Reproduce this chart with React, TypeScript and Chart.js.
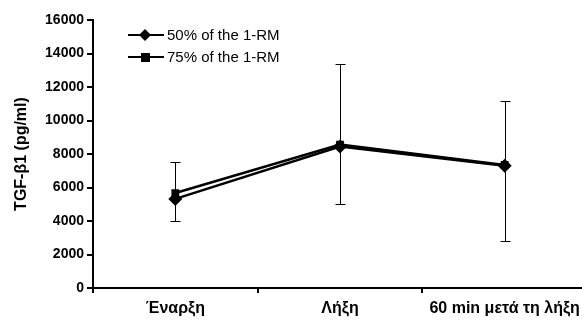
import React, { useEffect, useRef } from "react";
import { Chart, registerables } from "chart.js";
Chart.register(...registerables);

const categories = ["Έναρξη", "Λήξη", "60 min μετά τη λήξη"];
const series50 = [5320, 8450, 7300];
const series75 = [5670, 8560, 7350];
const errLow = [4000, 5020, 2800];
const errHigh = [7520, 13370, 11160];
const seriesNames = ["50% of the 1-RM", "75% of the 1-RM"];
const yTicks = [0, 2000, 4000, 6000, 8000, 10000, 12000, 14000, 16000];

const FONT = "Arial, 'Liberation Sans', sans-serif";

const errorBarPlugin = {
  id: "errorBars",
  afterDatasetsDraw(chart: any) {
    const { ctx, scales } = chart;
    const x = scales.x, y = scales.y;
    ctx.save();
    ctx.strokeStyle = "#000";
    ctx.lineWidth = 1;
    categories.forEach((_, i) => {
      const px = Math.round(x.getPixelForValue(i)) + 0.5;
      const y1 = y.getPixelForValue(errLow[i]);
      const y2 = y.getPixelForValue(errHigh[i]);
      ctx.beginPath();
      ctx.moveTo(px, y1);
      ctx.lineTo(px, y2);
      ctx.moveTo(px - 5, Math.round(y1) + 0.5);
      ctx.lineTo(px + 5, Math.round(y1) + 0.5);
      ctx.moveTo(px - 5, Math.round(y2) + 0.5);
      ctx.lineTo(px + 5, Math.round(y2) + 0.5);
      ctx.stroke();
    });
    ctx.restore();
  },
};

const legendPlugin = {
  id: "customLegend",
  afterDraw(chart: any) {
    const { ctx } = chart;
    ctx.save();
    const rows = [
      { y: 35, style: "diamond", label: seriesNames[0] },
      { y: 57, style: "square", label: seriesNames[1] },
    ];
    rows.forEach((r) => {
      ctx.strokeStyle = "#000";
      ctx.lineWidth = 2;
      ctx.beginPath();
      ctx.moveTo(128, r.y);
      ctx.lineTo(164, r.y);
      ctx.stroke();
      ctx.fillStyle = "#000";
      ctx.beginPath();
      if (r.style === "diamond") {
        ctx.moveTo(145, r.y - 6);
        ctx.lineTo(151, r.y);
        ctx.lineTo(145, r.y + 6);
        ctx.lineTo(139, r.y);
        ctx.closePath();
        ctx.fill();
      } else {
        ctx.fillRect(141, r.y - 4, 9, 9);
      }
      ctx.font = `15px ${FONT}`;
      ctx.textBaseline = "middle";
      ctx.textAlign = "left";
      ctx.fillText(r.label, 167, r.y + 1);
    });
    ctx.restore();
  },
};

export default function App() {
  const ref = useRef<HTMLCanvasElement>(null);
  useEffect(() => {
    document.body.style.margin = "0";
    const chart = new Chart(ref.current!, {
      type: "line",
      data: {
        labels: categories,
        datasets: [
          {
            label: seriesNames[0],
            data: series50,
            borderColor: "#000",
            backgroundColor: "#000",
            borderWidth: 2.5,
            pointStyle: "rectRot",
            pointRadius: 7,
            pointBorderWidth: 0,
          },
          {
            label: seriesNames[1],
            data: series75,
            borderColor: "#000",
            backgroundColor: "#000",
            borderWidth: 2.5,
            pointStyle: "rect",
            pointRadius: 5.5,
            pointBorderWidth: 0,
          },
        ],
      },
      options: {
        animation: false,
        responsive: false,
        layout: { padding: { top: 20, right: 13, left: 0, bottom: 0 } },
        plugins: { legend: { display: false }, tooltip: { enabled: false } },
        scales: {
          x: {
            offset: true,
            grid: {
              offset: true,
              drawOnChartArea: false,
              color: "#000",
              tickLength: 5,
              lineWidth: 2,
            },
            border: { color: "#000", width: 2 },
            ticks: {
              color: "#000",
              font: { family: FONT, size: 16, weight: "bold" },
              padding: 6,
              maxRotation: 0,
            },
            afterFit(scale: any) {
              scale.height = 32;
            },
          },
          y: {
            min: 0,
            max: 16000,
            afterBuildTicks(scale: any) {
              scale.ticks = yTicks.map((v) => ({ value: v }));
            },
            grid: {
              drawOnChartArea: false,
              color: "#000",
              tickLength: 6,
              lineWidth: 2,
            },
            border: { color: "#000", width: 2 },
            ticks: {
              color: "#000",
              font: { family: FONT, size: 14, weight: "bold" },
              padding: 3,
              callback: (v: any) => String(v),
            },
            title: {
              display: true,
              text: "TGF-β1 (pg/ml)",
              color: "#000",
              font: { family: FONT, size: 16, weight: "bold" },
              padding: { top: 12, bottom: 0 },
            },
            afterFit(scale: any) {
              scale.width = 93;
            },
          },
        },
      },
      plugins: [errorBarPlugin, legendPlugin],
    });
    return () => chart.destroy();
  }, []);
  return (
    <div style={{ width: 582, height: 320, overflow: "hidden", background: "#fff" }}>
      <canvas ref={ref} width={600} height={320} style={{ display: "block" }} />
    </div>
  );
}
